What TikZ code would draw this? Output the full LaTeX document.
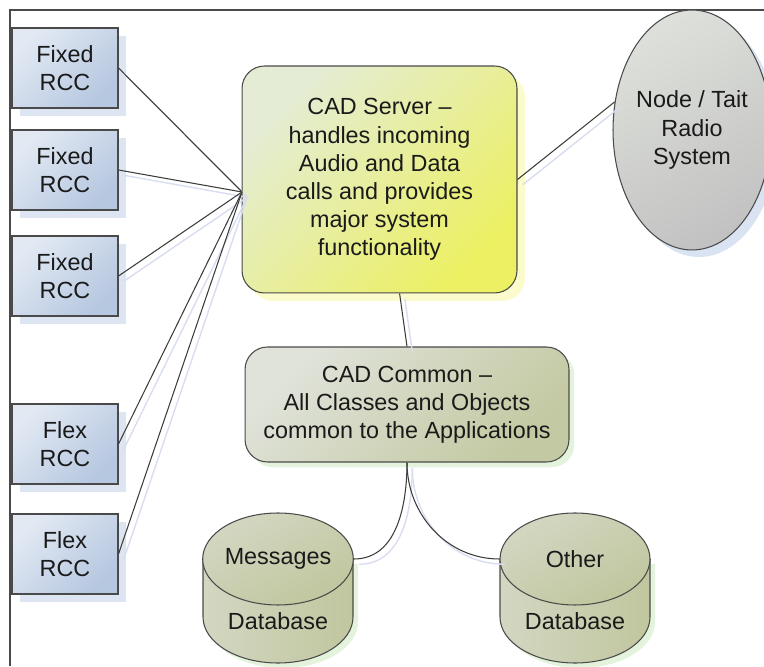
\documentclass[tikz,border=0pt]{standalone}
\usepackage{fontspec}
\setmainfont{Liberation Sans}
\usetikzlibrary{shapes.geometric,shadows}
\definecolor{textdark}{HTML}{1A1A1A}
\definecolor{edgegray}{HTML}{4A4A4A}
\definecolor{linkgray}{HTML}{3C3C3C}
\definecolor{linkshade}{HTML}{D8DDF0}
\definecolor{rcclight}{HTML}{E2E9F3}
\definecolor{rccdark}{HTML}{B6C7E0}
\definecolor{rccshade}{HTML}{DCE5F1}
\definecolor{srvlight}{HTML}{E4ECD6}
\definecolor{srvdark}{HTML}{ECF062}
\definecolor{srvshade}{HTML}{FBFBCB}
\definecolor{radiolight}{HTML}{DDE0DA}
\definecolor{radiodark}{HTML}{C2C2C2}
\definecolor{radioshade}{HTML}{D9E3F1}
\definecolor{cmnlight}{HTML}{E0E3DA}
\definecolor{cmndark}{HTML}{C3C9A2}
\definecolor{cmnshade}{HTML}{E3F3DC}
\definecolor{dblight}{HTML}{D3D7C2}
\definecolor{dbdark}{HTML}{C0C69E}
\tikzset{every node/.append style={font=\fontsize{13.3}{16}\selectfont,text=textdark}}
\tikzset{
  rccbox/.style={draw=edgegray,semithick,top color=rcclight,bottom color=rccdark,
    shading angle=45,minimum width=2.12cm,minimum height=1.6cm,align=center,
    drop shadow={shadow xshift=4.5pt,shadow yshift=-4.5pt,fill=rccshade,opacity=1}},
  srvbox/.style={draw=edgegray,semithick,rounded corners=0.45cm,top color=srvlight,
    bottom color=srvdark,shading angle=45,minimum width=5.5cm,minimum height=4.54cm,
    align=center,drop shadow={shadow xshift=4.5pt,shadow yshift=-4.5pt,fill=srvshade,opacity=1}},
  cmnbox/.style={draw=edgegray,semithick,rounded corners=0.45cm,top color=cmnlight,
    bottom color=cmndark,shading angle=45,minimum width=6.48cm,minimum height=2.3cm,
    align=center,drop shadow={shadow xshift=3pt,shadow yshift=-3pt,fill=cmnshade,opacity=1}},
  radiobox/.style={ellipse,draw=edgegray,semithick,top color=radiolight,bottom color=radiodark,
    shading angle=30,minimum width=2.88cm,minimum height=4.8cm,inner sep=0,align=center,
    drop shadow={shadow xshift=4pt,shadow yshift=-4pt,fill=radioshade,opacity=1}},
  dbcap/.style={ellipse,draw=edgegray,semithick,top color=dblight,bottom color=dbdark,
    shading angle=30,minimum width=3cm,minimum height=1.84cm,inner sep=0,
    label={[label distance=0.02cm]below:Database}},
  dbbody/.pic={
    \fill[cmnshade] (-70,-5) -- (-70,-63) arc[start angle=180,end angle=360,x radius=75,y radius=46] -- (80,-5) -- cycle;
    \draw[edgegray,semithick,left color=dblight,right color=dbdark]
      (-75,0) -- (-75,-58) arc[start angle=180,end angle=360,x radius=75,y radius=46] -- (75,0) -- cycle;
  },
  link/.style={draw=linkgray,semithick,
    preaction={draw=linkshade,line width=0.8pt,transform canvas={shift={(3pt,-3pt)}}}}
}
\begin{document}
\begin{tikzpicture}[x=0.02cm,y=0.02cm]
  \useasboundingbox (0,0) rectangle (764,666);
  \draw[edgegray,semithick] (10,0) -- (10,656) -- (764,656);
  % clients on the left
  \node[rccbox] (rcc1) at (65,598) {Fixed\\RCC};
  \node[rccbox] (rcc2) at (65,496) {Fixed\\RCC};
  \node[rccbox] (rcc3) at (65,390) {Fixed\\RCC};
  \node[rccbox] (flex1) at (65,222) {Flex\\RCC};
  \node[rccbox] (flex2) at (65,112) {Flex\\RCC};
  % server, radio and common layer
  \node[srvbox] (srv) at (379.5,486.5) {CAD Server --\\handles incoming\\Audio and Data\\calls and provides\\major system\\functionality};
  \node[radiobox] (radio) at (692,536) {Node / Tait\\Radio\\System};
  \node[cmnbox] (common) at (407,261.5) {CAD Common --\\All Classes and Objects\\common to the Applications};
  % databases: body first, cap on top
  \pic at (278,107) {dbbody};
  \node[dbcap] (msgdb) at (278,107) {Messages};
  \pic at (575,107) {dbbody};
  \node[dbcap] (othdb) at (575,107) {Other};
  \coordinate (hub) at (242,474);
  % links
  \foreach \n in {rcc1,rcc2,rcc3,flex1,flex2}
    \draw[link] (\n.east) -- (hub);
  \draw[link] (srv.east) -- (radio.160);
  \draw[link] (srv.280) -- (common.north);
  \draw[link] (common.south) to[out=-90,in=0] (msgdb.east);
  \draw[link] (common.south) to[out=-90,in=180] (othdb.west);
\end{tikzpicture}
\end{document}
